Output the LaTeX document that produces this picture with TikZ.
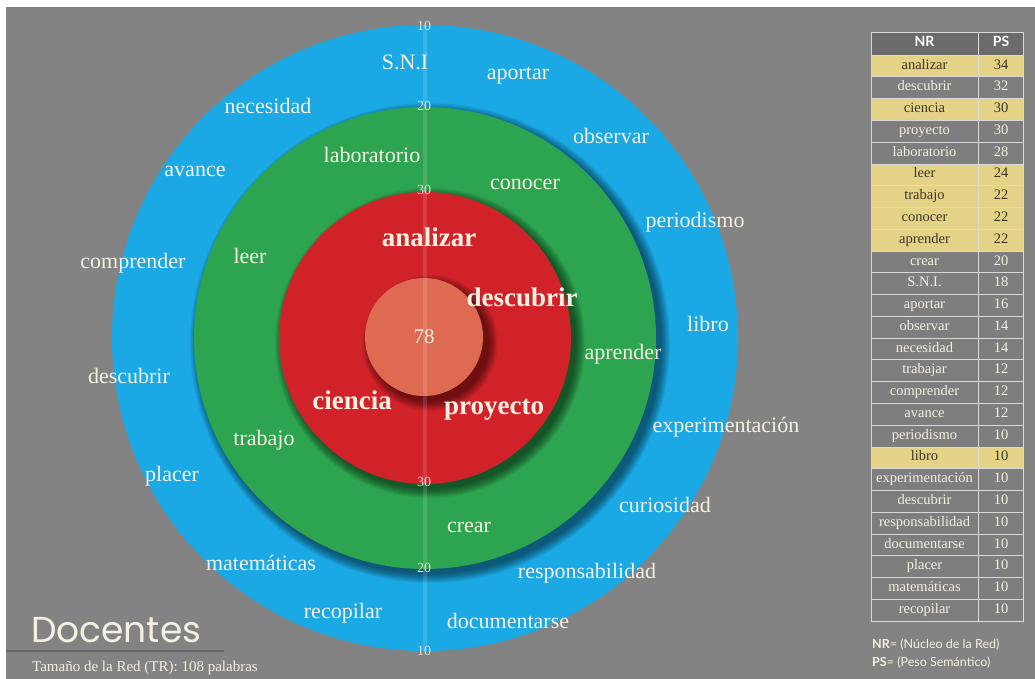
\documentclass[tikz,border=0pt]{standalone}
\usepackage{fontspec}
\setmainfont{Liberation Serif}
\newfontfamily\labelsans{Lato}
\newfontfamily\titlesans{Poppins}
\usetikzlibrary{positioning}
\definecolor{bgray}{HTML}{838383}
\definecolor{ringblue}{HTML}{1BA9E5}
\definecolor{ringgreen}{HTML}{2DA44F}
\definecolor{ringred}{HTML}{D22229}
\definecolor{corepink}{HTML}{DE6A52}
\definecolor{wordcol}{HTML}{F6F0E2}
\definecolor{rowy}{HTML}{E4D386}
\definecolor{rowg}{HTML}{7E7E7E}
\definecolor{txty}{HTML}{3A3628}
\definecolor{txtg}{HTML}{F6F0E2}
\definecolor{headgray}{HTML}{6B6B6B}
\tikzset{
    ring/.style = {circle, inner sep=0pt, minimum size=#1},
    word/.style = {text=wordcol, font=\fontsize{22}{22}\selectfont, inner sep=0pt},
    coreword/.style = {text=wordcol, font=\fontsize{27}{27}\selectfont\bfseries, inner sep=0pt},
    tick/.style = {text=wordcol!85!gray, font=\fontsize{14}{14}\selectfont, inner sep=0pt},
    cell/.style = {draw=white!70!gray, line width=0.6pt, minimum height=21.77pt, inner sep=0pt,
                   text height=10pt, text depth=3.5pt, font=\fontsize{14.5}{14.5}\selectfont},
    note/.style = {text=wordcol, anchor=west, inner sep=0pt}
}
\newcommand{\softshadow}[2]{%
    \foreach \k in {0,...,9}
        \fill[black, opacity=0.06] ([shift={(5,5)}]#1.center) circle (#2+9-\k);
}

\begin{document}
\begin{tikzpicture}[x=1pt, y=-1pt]
    \useasboundingbox (0,0) rectangle (1035,679);
    \fill[white] (0,0) rectangle (1035,679);
    \fill[bgray] (6,7) rectangle (1035,679);

    % rings, from outside in
    \node [ring=626pt, fill=ringblue] (blue) at (425,338) {};
    \softshadow{blue}{231}
    \node [ring=462pt, fill=ringgreen] (green) at (425,338) {};
    \softshadow{green}{146}
    \node [ring=292pt, fill=ringred] (red) at (425,338) {};
    \softshadow{red}{59}
    \node [ring=118pt, fill=corepink] (core) at (424,337) {};
    \draw [white, opacity=0.13, line width=4pt] (blue.north) -- (blue.south);

    % scale
    \node [tick] (t10a) at (424,26) {10};
    \node [tick] (t20a) at (424,106) {20};
    \node [tick] (t30a) at (424,190) {30};
    \node [tick] (t30b) at (424,482) {30};
    \node [tick] (t20b) at (424,568) {20};
    \node [tick] (t10b) at (424,651) {10};
    \node [text=wordcol, font=\fontsize{21}{21}\selectfont] (total) at (core) {78};

    % core words
    \node [coreword] (analizar) at (429,237) {analizar};
    \node [coreword] (descubrirc) at (522,297) {descubrir};
    \node [coreword] (ciencia) at (352,400) {ciencia};
    \node [coreword] (proyecto) at (494,410) {proyecto};

    % green ring
    \node [word] (laboratorio) at (372,155) {laboratorio};
    \node [word] (conocer) at (525,184) {conocer};
    \node [word] (leer) at (250,256) {leer};
    \node [word] (aprender) at (623,354) {aprender};
    \node [word] (trabajo) at (264,440) {trabajo};
    \node [word] (crear) at (469,527) {crear};

    % blue ring
    \node [word] (sni) at (405,62) {S.N.I};
    \node [word] (aportar) at (518,76) {aportar};
    \node [word] (necesidad) at (268,106) {necesidad};
    \node [word] (observar) at (611,136) {observar};
    \node [word] (avance) at (195,171) {avance};
    \node [word] (periodismo) at (695,222) {periodismo};
    \node [word] (comprender) at (133,263) {comprender};
    \node [word] (libro) at (708,324) {libro};
    \node [word] (descubrir) at (129,376) {descubrir};
    \node [word] (experimentacion) at (726,427) {experimentación};
    \node [word] (placer) at (172,476) {placer};
    \node [word] (curiosidad) at (665,505) {curiosidad};
    \node [word] (matematicas) at (261,563) {matemáticas};
    \node [word] (responsabilidad) at (587,573) {responsabilidad};
    \node [word] (recopilar) at (343,613) {recopilar};
    \node [word] (documentarse) at (508,621) {documentarse};

    % table
    \node [cell, fill=headgray, minimum width=107pt, minimum height=23pt, text=white,
           font=\labelsans\bfseries\fontsize{14}{14}\selectfont] (nrhead) at (924.5,43.5) {NR};
    \node [cell, fill=headgray, minimum width=45pt, minimum height=23pt, text=white,
           font=\labelsans\bfseries\fontsize{14}{14}\selectfont, right=0pt of nrhead] (pshead) {PS};
    \foreach \w/\n/\c [count=\i] in {analizar/34/y, descubrir/32/g, ciencia/30/y, proyecto/30/g,
        laboratorio/28/g, leer/24/y, trabajo/22/y, conocer/22/y, aprender/22/y, crear/20/g,
        S.N.I./18/g, aportar/16/g, observar/14/g, necesidad/14/g, trabajar/12/g, comprender/12/g,
        avance/12/g, periodismo/10/g, libro/10/y, experimentación/10/g, descubrir/10/g,
        responsabilidad/10/g, documentarse/10/g, placer/10/g, matemáticas/10/g, recopilar/10/g} {
        \node [cell, fill=row\c, text=txt\c, minimum width=107pt] (nr\i) at (924.5,{55+21.77*\i-10.885}) {\w};
        \node [cell, fill=row\c, text=txt\c, minimum width=45pt, right=0pt of nr\i] (ps\i) {\n};
    }
    \node [note, font=\labelsans\fontsize{12.5}{12.5}\selectfont] (nrnote) at (872,645) {\textbf{NR}= (Núcleo de la Red)};
    \node [note, font=\labelsans\fontsize{12.5}{12.5}\selectfont] (psnote) at (872,663) {\textbf{PS}= (Peso Semántico)};

    % title
    \node [note, font=\titlesans\fontsize{36}{36}\selectfont] (title) at (31,630) {Docentes};
    \draw [black!60, line width=1.5pt] (6,651) -- (224,651);
    \node [note, font=\fontsize{15}{15}\selectfont] (size) at (32,668) {Tamaño de la Red (TR): 108 palabras};
\end{tikzpicture}
\end{document}
